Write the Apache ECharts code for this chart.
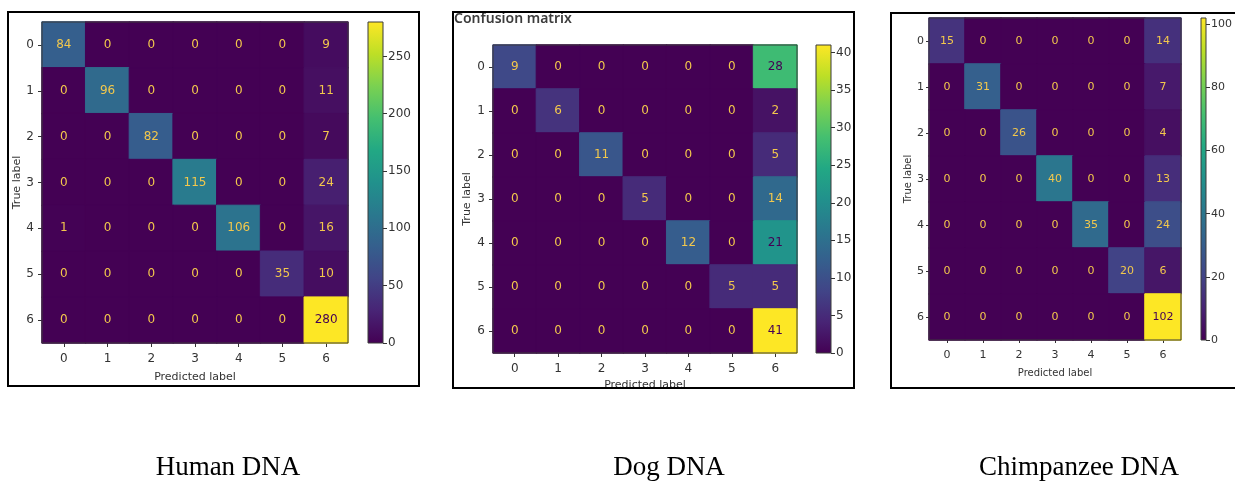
<!DOCTYPE html>
<html>
<head>
<meta charset="utf-8">
<script src="https://cdn.jsdelivr.net/npm/echarts@6/dist/echarts.min.js"></script>
<style>
  html, body { margin: 0; padding: 0; background: #fff; }
  #chart { width: 1235px; height: 481px; }
</style>
</head>
<body>
<div id="chart"></div>
<script>
// class labels 0..6
var categories = ['0', '1', '2', '3', '4', '5', '6'];

// rows = true label, columns = predicted label
var humanMatrix = [
  [84, 0, 0, 0, 0, 0, 9],
  [0, 96, 0, 0, 0, 0, 11],
  [0, 0, 82, 0, 0, 0, 7],
  [0, 0, 0, 115, 0, 0, 24],
  [1, 0, 0, 0, 106, 0, 16],
  [0, 0, 0, 0, 0, 35, 10],
  [0, 0, 0, 0, 0, 0, 280]
];
var dogMatrix = [
  [9, 0, 0, 0, 0, 0, 28],
  [0, 6, 0, 0, 0, 0, 2],
  [0, 0, 11, 0, 0, 0, 5],
  [0, 0, 0, 5, 0, 0, 14],
  [0, 0, 0, 0, 12, 0, 21],
  [0, 0, 0, 0, 0, 5, 5],
  [0, 0, 0, 0, 0, 0, 41]
];
var chimpMatrix = [
  [15, 0, 0, 0, 0, 0, 14],
  [0, 31, 0, 0, 0, 0, 7],
  [0, 0, 26, 0, 0, 0, 4],
  [0, 0, 0, 40, 0, 0, 13],
  [0, 0, 0, 0, 35, 0, 24],
  [0, 0, 0, 0, 0, 20, 6],
  [0, 0, 0, 0, 0, 0, 102]
];

// colorbar tick steps
var humanTickStep = 50;
var dogTickStep = 5;
var chimpTickStep = 20;

var captions = ['Human DNA', 'Dog DNA', 'Chimpanzee DNA'];

var viridis = ['#440154', '#482475', '#414487', '#355f8d', '#2a788e',
  '#21918c', '#22a884', '#44bf70', '#7ad151', '#bddf26', '#fde725'];

var FONT = 'DejaVu Sans';

function maxOf(m) {
  var mx = 0;
  m.forEach(function (r) { r.forEach(function (v) { if (v > mx) mx = v; }); });
  return mx;
}

function cells(m) {
  var mx = maxOf(m);
  var out = [];
  m.forEach(function (row, y) {
    row.forEach(function (v, x) {
      var c = echarts.color.lerp(v / mx, viridis);
      // matplotlib style: bright text on dark cells, dark text on bright ones
      out.push({
        value: [x, y, v],
        itemStyle: { color: c, borderColor: c, borderWidth: 1 },
        label: { color: v > mx / 2 ? '#440154' : '#f3c84c' }
      });
    });
  });
  return out;
}

function gradient() {
  var stops = viridis.map(function (c, i) {
    return { offset: i / (viridis.length - 1), color: c };
  });
  return new echarts.graphic.LinearGradient(0, 1, 0, 0, stops);
}

// panel layouts: matrix grid, colorbar grid, font sizes
var panels = [
  { m: humanMatrix, step: humanTickStep,
    grid: { left: 42, top: 22, width: 306, height: 321 },
    bar: { left: 368, top: 22, width: 15, height: 321 },
    fs: 12, nfs: 11, xNameGap: 29, yNameGap: 19, xMargin: 10, yMargin: 8, tick: 4 },
  { m: dogMatrix, step: dogTickStep,
    grid: { left: 493, top: 45, width: 304, height: 308 },
    bar: { left: 816, top: 45, width: 15, height: 308 },
    fs: 12, nfs: 11, xNameGap: 25, yNameGap: 20, xMargin: 10, yMargin: 8, tick: 4 },
  { m: chimpMatrix, step: chimpTickStep,
    grid: { left: 929, top: 18, width: 252, height: 322 },
    bar: { left: 1201, top: 18, width: 12, height: 322 },
    fs: 11, nfs: 10, xNameGap: 28, yNameGap: 14, xMargin: 10, yMargin: 5, tick: 3 }
];

var option = {
  animation: false,
  backgroundColor: '#fff',
  textStyle: { fontFamily: FONT },
  title: [],
  grid: [],
  xAxis: [],
  yAxis: [],
  series: [],
  graphic: []
};

panels.forEach(function (p, i) {
  var mx = maxOf(p.m);
  var gi = i * 2;
  option.grid.push(Object.assign({ show: true, z: 5, borderColor: '#3a3a3a', borderWidth: 1,
    backgroundColor: 'transparent' }, p.grid));
  option.grid.push(Object.assign({ show: true, z: 5, borderColor: '#3a3a3a', borderWidth: 1,
    backgroundColor: 'transparent' }, p.bar));

  option.xAxis.push({
    type: 'category', gridIndex: gi, data: categories, position: 'bottom',
    name: 'Predicted label', nameLocation: 'middle', nameGap: p.xNameGap,
    nameTextStyle: { color: '#333', fontSize: p.nfs, fontFamily: FONT },
    axisLine: { show: false },
    axisTick: { show: true, alignWithLabel: true, length: p.tick, lineStyle: { color: '#333' } },
    axisLabel: { color: '#333', fontSize: p.fs, margin: p.xMargin, fontFamily: FONT },
    splitLine: { show: false }
  });
  option.yAxis.push({
    type: 'category', gridIndex: gi, data: categories, inverse: true,
    name: 'True label', nameLocation: 'middle', nameGap: p.yNameGap,
    nameTextStyle: { color: '#333', fontSize: p.nfs, fontFamily: FONT },
    axisLine: { show: false },
    axisTick: { show: true, alignWithLabel: true, length: p.tick, lineStyle: { color: '#333' } },
    axisLabel: { color: '#333', fontSize: p.fs, margin: p.yMargin, fontFamily: FONT },
    splitLine: { show: false }
  });

  // colorbar axes
  option.xAxis.push({
    type: 'category', gridIndex: gi + 1, data: [''], show: false
  });
  option.yAxis.push({
    type: 'value', gridIndex: gi + 1, position: 'right', min: 0, max: mx,
    interval: p.step,
    axisLine: { show: false },
    axisTick: { show: true, length: 4, lineStyle: { color: '#333' } },
    axisLabel: { color: '#333', fontSize: p.fs, margin: 5, fontFamily: FONT,
      showMaxLabel: false },
    splitLine: { show: false }
  });

  option.series.push({
    type: 'heatmap', xAxisIndex: gi, yAxisIndex: gi, z: 2,
    data: cells(p.m),
    label: { show: true, fontSize: p.fs, fontFamily: FONT,
      formatter: function (d) { return d.value[2]; } },
    emphasis: { disabled: true }
  });
  option.series.push({
    type: 'bar', xAxisIndex: gi + 1, yAxisIndex: gi + 1, z: 2,
    barWidth: '100%', data: [mx],
    itemStyle: { color: gradient() },
    silent: true
  });
});

// panel 2 heading
option.title.push({
  text: 'Confusion matrix', left: 454, top: 12, padding: 0,
  textStyle: { fontFamily: 'Noto Sans', fontSize: 14, fontWeight: 600, color: '#3c3c3c' }
});

// captions under panels
[228, 669, 1079].forEach(function (cx, i) {
  option.title.push({
    text: captions[i], left: cx, top: 454, textAlign: 'center', padding: 0,
    textStyle: { fontFamily: 'Liberation Serif', fontSize: 27, fontWeight: 'normal', color: '#000' }
  });
});

// white cover for what sticks out of the middle frame, then the frames
option.graphic = [
  { type: 'rect', z: 100, shape: { x: 855, y: 0, width: 35, height: 440 }, style: { fill: '#fff' } },
  { type: 'rect', z: 100, shape: { x: 450, y: 389, width: 410, height: 50 }, style: { fill: '#fff' } },
  { type: 'rect', z: 101, shape: { x: 8, y: 12, width: 411, height: 374 },
    style: { fill: 'none', stroke: '#000', lineWidth: 2 } },
  { type: 'rect', z: 101, shape: { x: 453, y: 12, width: 401, height: 376 },
    style: { fill: 'none', stroke: '#000', lineWidth: 2 } },
  { type: 'rect', z: 101, shape: { x: 891, y: 13, width: 360, height: 375 },
    style: { fill: 'none', stroke: '#000', lineWidth: 2 } }
];

var chart = echarts.init(document.getElementById('chart'));
chart.setOption(option);
window.onresize = function () { chart.resize(); };
</script>
</body>
</html>
